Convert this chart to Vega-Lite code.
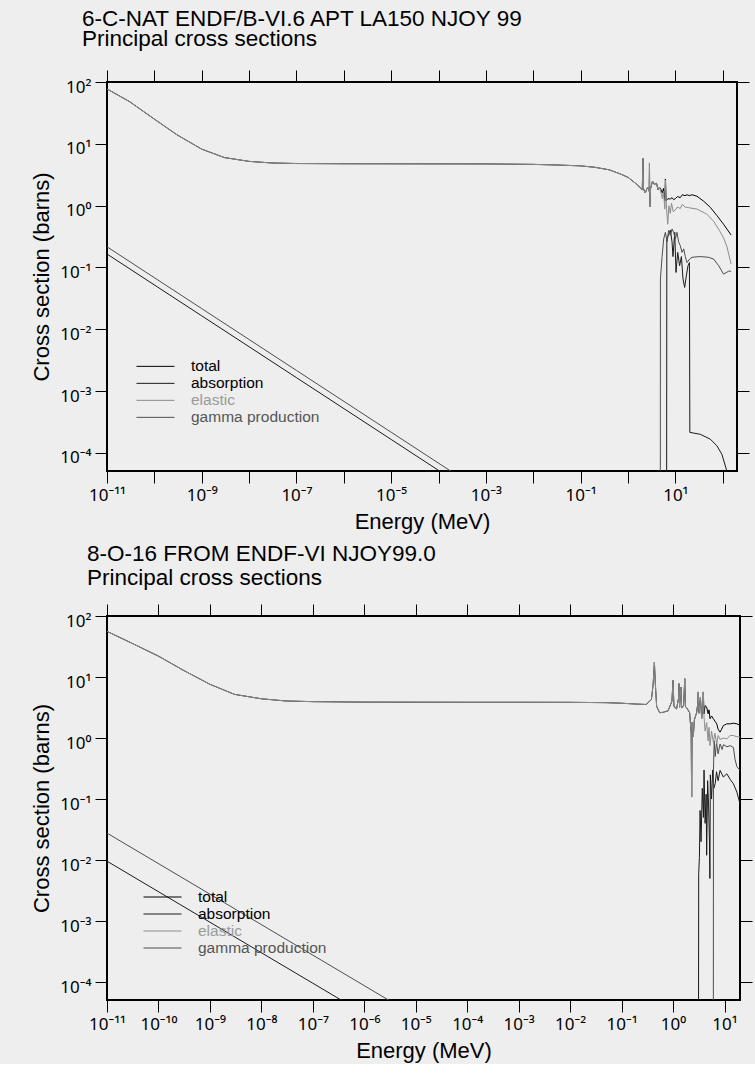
{
  "$schema": "https://vega.github.io/schema/vega-lite/v6.json",
  "background": "#eeeeee",
  "padding": {"left": 29, "top": 6, "right": 4, "bottom": 2},
  "datasets": {
    "carbon": [
      {"reaction": "total", "energy": 1e-11, "xs": 77.2},
      {"reaction": "total", "energy": 3e-11, "xs": 48.1},
      {"reaction": "total", "energy": 1e-10, "xs": 25.1},
      {"reaction": "total", "energy": 3e-10, "xs": 14},
      {"reaction": "total", "energy": 1e-9, "xs": 8.2},
      {"reaction": "total", "energy": 3e-9, "xs": 6.0},
      {"reaction": "total", "energy": 1e-8, "xs": 5.2},
      {"reaction": "total", "energy": 3e-8, "xs": 4.9},
      {"reaction": "total", "energy": 1e-7, "xs": 4.8},
      {"reaction": "total", "energy": 1e-6, "xs": 4.76},
      {"reaction": "total", "energy": 1e-5, "xs": 4.75},
      {"reaction": "total", "energy": 1e-4, "xs": 4.74},
      {"reaction": "total", "energy": 1e-3, "xs": 4.73},
      {"reaction": "total", "energy": 1e-2, "xs": 4.65},
      {"reaction": "total", "energy": 0.03, "xs": 4.55},
      {"reaction": "total", "energy": 0.1, "xs": 4.4},
      {"reaction": "total", "energy": 0.2, "xs": 4.17},
      {"reaction": "total", "energy": 0.4, "xs": 3.8},
      {"reaction": "total", "energy": 0.7, "xs": 3.24},
      {"reaction": "total", "energy": 1.0, "xs": 2.87},
      {"reaction": "total", "energy": 1.5, "xs": 2.24},
      {"reaction": "total", "energy": 2.0, "xs": 1.81},
      {"reaction": "total", "energy": 2.07, "xs": 5.8},
      {"reaction": "total", "energy": 2.12, "xs": 1.9},
      {"reaction": "total", "energy": 2.3, "xs": 1.6},
      {"reaction": "total", "energy": 2.6, "xs": 2.0},
      {"reaction": "total", "energy": 2.8, "xs": 1.7},
      {"reaction": "total", "energy": 2.84, "xs": 4.9},
      {"reaction": "total", "energy": 2.88, "xs": 0.95},
      {"reaction": "total", "energy": 3.0, "xs": 1.9},
      {"reaction": "total", "energy": 3.3, "xs": 2.5},
      {"reaction": "total", "energy": 3.6, "xs": 2.2},
      {"reaction": "total", "energy": 4.0, "xs": 2.3},
      {"reaction": "total", "energy": 4.3, "xs": 1.8},
      {"reaction": "total", "energy": 4.6, "xs": 2.0},
      {"reaction": "total", "energy": 5.0, "xs": 1.8},
      {"reaction": "total", "energy": 5.3, "xs": 1.6},
      {"reaction": "total", "energy": 5.6, "xs": 1.9},
      {"reaction": "total", "energy": 6.0, "xs": 1.2},
      {"reaction": "total", "energy": 6.15, "xs": 2.7},
      {"reaction": "total", "energy": 6.4, "xs": 1.2},
      {"reaction": "total", "energy": 7.0, "xs": 1.3},
      {"reaction": "total", "energy": 7.85, "xs": 1.28},
      {"reaction": "total", "energy": 8.5, "xs": 1.35},
      {"reaction": "total", "energy": 9.2, "xs": 1.25},
      {"reaction": "total", "energy": 10, "xs": 1.3},
      {"reaction": "total", "energy": 11, "xs": 1.4},
      {"reaction": "total", "energy": 12.7, "xs": 1.35},
      {"reaction": "total", "energy": 14, "xs": 1.5},
      {"reaction": "total", "energy": 16, "xs": 1.45},
      {"reaction": "total", "energy": 17.6, "xs": 1.5},
      {"reaction": "total", "energy": 20, "xs": 1.45},
      {"reaction": "total", "energy": 22.4, "xs": 1.5},
      {"reaction": "total", "energy": 28.6, "xs": 1.42},
      {"reaction": "total", "energy": 39.5, "xs": 1.18},
      {"reaction": "total", "energy": 54.6, "xs": 0.94},
      {"reaction": "total", "energy": 75.5, "xs": 0.69},
      {"reaction": "total", "energy": 104, "xs": 0.5},
      {"reaction": "total", "energy": 150, "xs": 0.335},

      {"reaction": "absorption", "energy": 1e-11, "xs": 0.165},
      {"reaction": "absorption", "energy": 1e-9, "xs": 0.0165},
      {"reaction": "absorption", "energy": 1e-7, "xs": 0.00165},
      {"reaction": "absorption", "energy": 1e-5, "xs": 0.000165},
      {"reaction": "absorption", "energy": 1e-3, "xs": 0.0000165},
      {"reaction": "absorption", "energy": 6.5, "xs": 1e-7},
      {"reaction": "absorption", "energy": 6.6, "xs": 0.29},
      {"reaction": "absorption", "energy": 7.85, "xs": 0.40},
      {"reaction": "absorption", "energy": 8.5, "xs": 0.26},
      {"reaction": "absorption", "energy": 8.9, "xs": 0.15},
      {"reaction": "absorption", "energy": 9.7, "xs": 0.37},
      {"reaction": "absorption", "energy": 10.3, "xs": 0.083},
      {"reaction": "absorption", "energy": 11.2, "xs": 0.175},
      {"reaction": "absorption", "energy": 12.3, "xs": 0.107},
      {"reaction": "absorption", "energy": 13.4, "xs": 0.15},
      {"reaction": "absorption", "energy": 14.5, "xs": 0.065},
      {"reaction": "absorption", "energy": 15.7, "xs": 0.0475},
      {"reaction": "absorption", "energy": 17.1, "xs": 0.075},
      {"reaction": "absorption", "energy": 18.5, "xs": 0.107},
      {"reaction": "absorption", "energy": 19.8, "xs": 0.12},
      {"reaction": "absorption", "energy": 20.2, "xs": 0.000215},
      {"reaction": "absorption", "energy": 33.5, "xs": 0.0002},
      {"reaction": "absorption", "energy": 54.6, "xs": 0.000167},
      {"reaction": "absorption", "energy": 75.5, "xs": 0.00013},
      {"reaction": "absorption", "energy": 96, "xs": 0.000095},
      {"reaction": "absorption", "energy": 122, "xs": 0.000051},
      {"reaction": "absorption", "energy": 150, "xs": 0.000025},

      {"reaction": "gamma production", "energy": 1e-11, "xs": 0.216},
      {"reaction": "gamma production", "energy": 1e-9, "xs": 0.0216},
      {"reaction": "gamma production", "energy": 1e-7, "xs": 0.00216},
      {"reaction": "gamma production", "energy": 1e-5, "xs": 0.000216},
      {"reaction": "gamma production", "energy": 1e-3, "xs": 0.0000216},
      {"reaction": "gamma production", "energy": 4.8, "xs": 1e-7},
      {"reaction": "gamma production", "energy": 4.83, "xs": 0.065},
      {"reaction": "gamma production", "energy": 5.24, "xs": 0.15},
      {"reaction": "gamma production", "energy": 5.67, "xs": 0.29},
      {"reaction": "gamma production", "energy": 6.15, "xs": 0.37},
      {"reaction": "gamma production", "energy": 6.68, "xs": 0.26},
      {"reaction": "gamma production", "energy": 7.24, "xs": 0.40},
      {"reaction": "gamma production", "energy": 7.85, "xs": 0.33},
      {"reaction": "gamma production", "energy": 8.5, "xs": 0.42},
      {"reaction": "gamma production", "energy": 9.2, "xs": 0.37},
      {"reaction": "gamma production", "energy": 10, "xs": 0.29},
      {"reaction": "gamma production", "energy": 10.8, "xs": 0.37},
      {"reaction": "gamma production", "energy": 11.7, "xs": 0.26},
      {"reaction": "gamma production", "energy": 12.7, "xs": 0.225},
      {"reaction": "gamma production", "energy": 13.8, "xs": 0.175},
      {"reaction": "gamma production", "energy": 15, "xs": 0.2},
      {"reaction": "gamma production", "energy": 16.2, "xs": 0.15},
      {"reaction": "gamma production", "energy": 17.6, "xs": 0.12},
      {"reaction": "gamma production", "energy": 20, "xs": 0.137},
      {"reaction": "gamma production", "energy": 22.4, "xs": 0.146},
      {"reaction": "gamma production", "energy": 33.5, "xs": 0.15},
      {"reaction": "gamma production", "energy": 50, "xs": 0.146},
      {"reaction": "gamma production", "energy": 64, "xs": 0.137},
      {"reaction": "gamma production", "energy": 82, "xs": 0.107},
      {"reaction": "gamma production", "energy": 104, "xs": 0.078},
      {"reaction": "gamma production", "energy": 133, "xs": 0.087},
      {"reaction": "gamma production", "energy": 150, "xs": 0.087},

      {"reaction": "elastic", "energy": 1e-11, "xs": 77},
      {"reaction": "elastic", "energy": 3e-11, "xs": 48},
      {"reaction": "elastic", "energy": 1e-10, "xs": 25},
      {"reaction": "elastic", "energy": 3e-10, "xs": 14},
      {"reaction": "elastic", "energy": 1e-9, "xs": 8.2},
      {"reaction": "elastic", "energy": 3e-9, "xs": 6.0},
      {"reaction": "elastic", "energy": 1e-8, "xs": 5.2},
      {"reaction": "elastic", "energy": 3e-8, "xs": 4.9},
      {"reaction": "elastic", "energy": 1e-7, "xs": 4.8},
      {"reaction": "elastic", "energy": 1e-6, "xs": 4.76},
      {"reaction": "elastic", "energy": 1e-5, "xs": 4.75},
      {"reaction": "elastic", "energy": 1e-4, "xs": 4.74},
      {"reaction": "elastic", "energy": 1e-3, "xs": 4.73},
      {"reaction": "elastic", "energy": 1e-2, "xs": 4.65},
      {"reaction": "elastic", "energy": 0.03, "xs": 4.55},
      {"reaction": "elastic", "energy": 0.1, "xs": 4.4},
      {"reaction": "elastic", "energy": 0.2, "xs": 4.17},
      {"reaction": "elastic", "energy": 0.4, "xs": 3.8},
      {"reaction": "elastic", "energy": 0.7, "xs": 3.24},
      {"reaction": "elastic", "energy": 1.0, "xs": 2.87},
      {"reaction": "elastic", "energy": 1.5, "xs": 2.24},
      {"reaction": "elastic", "energy": 2.0, "xs": 1.81},
      {"reaction": "elastic", "energy": 2.07, "xs": 5.8},
      {"reaction": "elastic", "energy": 2.12, "xs": 1.9},
      {"reaction": "elastic", "energy": 2.3, "xs": 1.6},
      {"reaction": "elastic", "energy": 2.6, "xs": 2.0},
      {"reaction": "elastic", "energy": 2.8, "xs": 1.7},
      {"reaction": "elastic", "energy": 2.84, "xs": 4.9},
      {"reaction": "elastic", "energy": 2.88, "xs": 0.95},
      {"reaction": "elastic", "energy": 3.0, "xs": 1.9},
      {"reaction": "elastic", "energy": 3.3, "xs": 2.5},
      {"reaction": "elastic", "energy": 3.6, "xs": 2.2},
      {"reaction": "elastic", "energy": 4.0, "xs": 2.3},
      {"reaction": "elastic", "energy": 4.3, "xs": 1.8},
      {"reaction": "elastic", "energy": 4.6, "xs": 2.0},
      {"reaction": "elastic", "energy": 5.0, "xs": 1.6},
      {"reaction": "elastic", "energy": 5.3, "xs": 1.3},
      {"reaction": "elastic", "energy": 5.6, "xs": 1.7},
      {"reaction": "elastic", "energy": 6.0, "xs": 0.88},
      {"reaction": "elastic", "energy": 6.2, "xs": 2.6},
      {"reaction": "elastic", "energy": 6.5, "xs": 0.9},
      {"reaction": "elastic", "energy": 6.9, "xs": 0.5},
      {"reaction": "elastic", "energy": 7.3, "xs": 1.0},
      {"reaction": "elastic", "energy": 7.8, "xs": 0.75},
      {"reaction": "elastic", "energy": 8.3, "xs": 1.1},
      {"reaction": "elastic", "energy": 9.0, "xs": 0.8},
      {"reaction": "elastic", "energy": 10, "xs": 0.85},
      {"reaction": "elastic", "energy": 11, "xs": 0.95},
      {"reaction": "elastic", "energy": 12.7, "xs": 0.9},
      {"reaction": "elastic", "energy": 14, "xs": 1.05},
      {"reaction": "elastic", "energy": 16, "xs": 0.95},
      {"reaction": "elastic", "energy": 20, "xs": 0.92},
      {"reaction": "elastic", "energy": 28.6, "xs": 0.88},
      {"reaction": "elastic", "energy": 46, "xs": 0.73},
      {"reaction": "elastic", "energy": 64, "xs": 0.56},
      {"reaction": "elastic", "energy": 88, "xs": 0.38},
      {"reaction": "elastic", "energy": 104, "xs": 0.3},
      {"reaction": "elastic", "energy": 122, "xs": 0.22},
      {"reaction": "elastic", "energy": 150, "xs": 0.114}
    ],
    "oxygen": [
      {"reaction": "total", "energy": 1e-11, "xs": 56},
      {"reaction": "total", "energy": 3e-11, "xs": 36},
      {"reaction": "total", "energy": 1e-10, "xs": 22},
      {"reaction": "total", "energy": 3e-10, "xs": 13},
      {"reaction": "total", "energy": 1e-9, "xs": 7.6},
      {"reaction": "total", "energy": 3e-9, "xs": 5.2},
      {"reaction": "total", "energy": 1e-8, "xs": 4.4},
      {"reaction": "total", "energy": 3e-8, "xs": 4.05},
      {"reaction": "total", "energy": 1e-7, "xs": 3.95},
      {"reaction": "total", "energy": 1e-6, "xs": 3.88},
      {"reaction": "total", "energy": 1e-5, "xs": 3.87},
      {"reaction": "total", "energy": 1e-4, "xs": 3.86},
      {"reaction": "total", "energy": 1e-3, "xs": 3.86},
      {"reaction": "total", "energy": 1e-2, "xs": 3.85},
      {"reaction": "total", "energy": 0.05, "xs": 3.8},
      {"reaction": "total", "energy": 0.1, "xs": 3.72},
      {"reaction": "total", "energy": 0.2, "xs": 3.6},
      {"reaction": "total", "energy": 0.3, "xs": 3.55},
      {"reaction": "total", "energy": 0.38, "xs": 4.3},
      {"reaction": "total", "energy": 0.41, "xs": 7.5},
      {"reaction": "total", "energy": 0.434, "xs": 17.6},
      {"reaction": "total", "energy": 0.45, "xs": 8.5},
      {"reaction": "total", "energy": 0.48, "xs": 3.3},
      {"reaction": "total", "energy": 0.55, "xs": 2.6},
      {"reaction": "total", "energy": 0.65, "xs": 2.65},
      {"reaction": "total", "energy": 0.8, "xs": 2.8},
      {"reaction": "total", "energy": 0.95, "xs": 4.0},
      {"reaction": "total", "energy": 1.0, "xs": 8.8},
      {"reaction": "total", "energy": 1.04, "xs": 3.3},
      {"reaction": "total", "energy": 1.17, "xs": 3.0},
      {"reaction": "total", "energy": 1.28, "xs": 4.5},
      {"reaction": "total", "energy": 1.31, "xs": 7.8},
      {"reaction": "total", "energy": 1.34, "xs": 3.2},
      {"reaction": "total", "energy": 1.42, "xs": 6.8},
      {"reaction": "total", "energy": 1.47, "xs": 3.1},
      {"reaction": "total", "energy": 1.6, "xs": 3.4},
      {"reaction": "total", "energy": 1.69, "xs": 9.4},
      {"reaction": "total", "energy": 1.74, "xs": 3.3},
      {"reaction": "total", "energy": 1.9, "xs": 3.0},
      {"reaction": "total", "energy": 2.1, "xs": 2.6},
      {"reaction": "total", "energy": 2.25, "xs": 1.2},
      {"reaction": "total", "energy": 2.3, "xs": 0.108},
      {"reaction": "total", "energy": 2.35, "xs": 1.8},
      {"reaction": "total", "energy": 2.47, "xs": 1.04},
      {"reaction": "total", "energy": 2.6, "xs": 2.0},
      {"reaction": "total", "energy": 2.87, "xs": 2.6},
      {"reaction": "total", "energy": 3.0, "xs": 3.5},
      {"reaction": "total", "energy": 3.09, "xs": 5.7},
      {"reaction": "total", "energy": 3.2, "xs": 2.6},
      {"reaction": "total", "energy": 3.4, "xs": 4.7},
      {"reaction": "total", "energy": 3.6, "xs": 2.1},
      {"reaction": "total", "energy": 3.8, "xs": 3.4},
      {"reaction": "total", "energy": 3.87, "xs": 5.7},
      {"reaction": "total", "energy": 4.0, "xs": 2.5},
      {"reaction": "total", "energy": 4.2, "xs": 3.4},
      {"reaction": "total", "energy": 4.5, "xs": 3.22},
      {"reaction": "total", "energy": 4.8, "xs": 2.5},
      {"reaction": "total", "energy": 5.0, "xs": 2.9},
      {"reaction": "total", "energy": 5.23, "xs": 2.07},
      {"reaction": "total", "energy": 5.6, "xs": 2.3},
      {"reaction": "total", "energy": 6.08, "xs": 2.07},
      {"reaction": "total", "energy": 6.5, "xs": 1.9},
      {"reaction": "total", "energy": 7.07, "xs": 1.71},
      {"reaction": "total", "energy": 7.5, "xs": 1.4},
      {"reaction": "total", "energy": 8.2, "xs": 1.25},
      {"reaction": "total", "energy": 8.8, "xs": 1.4},
      {"reaction": "total", "energy": 9.5, "xs": 1.6},
      {"reaction": "total", "energy": 11.1, "xs": 1.71},
      {"reaction": "total", "energy": 12.9, "xs": 1.71},
      {"reaction": "total", "energy": 14.9, "xs": 1.75},
      {"reaction": "total", "energy": 17.4, "xs": 1.71},
      {"reaction": "total", "energy": 20, "xs": 1.62},

      {"reaction": "absorption", "energy": 1e-11, "xs": 0.0096},
      {"reaction": "absorption", "energy": 1e-9, "xs": 0.00096},
      {"reaction": "absorption", "energy": 1e-7, "xs": 0.000096},
      {"reaction": "absorption", "energy": 1e-5, "xs": 0.0000096},
      {"reaction": "absorption", "energy": 3.1, "xs": 1e-7},
      {"reaction": "absorption", "energy": 3.15, "xs": 0.006},
      {"reaction": "absorption", "energy": 3.25, "xs": 0.011},
      {"reaction": "absorption", "energy": 3.35, "xs": 0.065},
      {"reaction": "absorption", "energy": 3.5, "xs": 0.02},
      {"reaction": "absorption", "energy": 3.7, "xs": 0.15},
      {"reaction": "absorption", "energy": 3.9, "xs": 0.05},
      {"reaction": "absorption", "energy": 4.0, "xs": 0.3},
      {"reaction": "absorption", "energy": 4.2, "xs": 0.04},
      {"reaction": "absorption", "energy": 4.4, "xs": 0.12},
      {"reaction": "absorption", "energy": 4.5, "xs": 0.012},
      {"reaction": "absorption", "energy": 4.7, "xs": 0.2},
      {"reaction": "absorption", "energy": 4.9, "xs": 0.08},
      {"reaction": "absorption", "energy": 5.1, "xs": 0.02},
      {"reaction": "absorption", "energy": 5.2, "xs": 0.005},
      {"reaction": "absorption", "energy": 5.3, "xs": 0.25},
      {"reaction": "absorption", "energy": 5.6, "xs": 0.1},
      {"reaction": "absorption", "energy": 5.9, "xs": 0.3},
      {"reaction": "absorption", "energy": 6.2, "xs": 0.15},
      {"reaction": "absorption", "energy": 6.6, "xs": 0.18},
      {"reaction": "absorption", "energy": 7.0, "xs": 0.28},
      {"reaction": "absorption", "energy": 7.5, "xs": 0.2},
      {"reaction": "absorption", "energy": 8.2, "xs": 0.295},
      {"reaction": "absorption", "energy": 9.5, "xs": 0.23},
      {"reaction": "absorption", "energy": 11.1, "xs": 0.26},
      {"reaction": "absorption", "energy": 12.9, "xs": 0.21},
      {"reaction": "absorption", "energy": 14.9, "xs": 0.178},
      {"reaction": "absorption", "energy": 17.4, "xs": 0.13},
      {"reaction": "absorption", "energy": 20, "xs": 0.084},

      {"reaction": "gamma production", "energy": 1e-11, "xs": 0.0277},
      {"reaction": "gamma production", "energy": 1e-9, "xs": 0.00277},
      {"reaction": "gamma production", "energy": 1e-7, "xs": 0.000277},
      {"reaction": "gamma production", "energy": 1e-5, "xs": 0.0000277},
      {"reaction": "gamma production", "energy": 1e-3, "xs": 0.00000277},
      {"reaction": "gamma production", "energy": 6.05, "xs": 1e-7},
      {"reaction": "gamma production", "energy": 6.1, "xs": 0.3},
      {"reaction": "gamma production", "energy": 6.3, "xs": 0.9},
      {"reaction": "gamma production", "energy": 6.6, "xs": 0.5},
      {"reaction": "gamma production", "energy": 7.0, "xs": 0.85},
      {"reaction": "gamma production", "energy": 7.5, "xs": 0.55},
      {"reaction": "gamma production", "energy": 8.2, "xs": 0.8},
      {"reaction": "gamma production", "energy": 9.0, "xs": 0.65},
      {"reaction": "gamma production", "energy": 9.5, "xs": 0.78},
      {"reaction": "gamma production", "energy": 11.1, "xs": 0.72},
      {"reaction": "gamma production", "energy": 12.9, "xs": 0.75},
      {"reaction": "gamma production", "energy": 14.9, "xs": 0.7},
      {"reaction": "gamma production", "energy": 16, "xs": 0.45},
      {"reaction": "gamma production", "energy": 17.4, "xs": 0.34},
      {"reaction": "gamma production", "energy": 20, "xs": 0.295},

      {"reaction": "elastic", "energy": 1e-11, "xs": 56},
      {"reaction": "elastic", "energy": 3e-11, "xs": 36},
      {"reaction": "elastic", "energy": 1e-10, "xs": 22},
      {"reaction": "elastic", "energy": 3e-10, "xs": 13},
      {"reaction": "elastic", "energy": 1e-9, "xs": 7.6},
      {"reaction": "elastic", "energy": 3e-9, "xs": 5.2},
      {"reaction": "elastic", "energy": 1e-8, "xs": 4.4},
      {"reaction": "elastic", "energy": 3e-8, "xs": 4.05},
      {"reaction": "elastic", "energy": 1e-7, "xs": 3.95},
      {"reaction": "elastic", "energy": 1e-6, "xs": 3.88},
      {"reaction": "elastic", "energy": 1e-5, "xs": 3.87},
      {"reaction": "elastic", "energy": 1e-4, "xs": 3.86},
      {"reaction": "elastic", "energy": 1e-3, "xs": 3.86},
      {"reaction": "elastic", "energy": 1e-2, "xs": 3.85},
      {"reaction": "elastic", "energy": 0.05, "xs": 3.8},
      {"reaction": "elastic", "energy": 0.1, "xs": 3.72},
      {"reaction": "elastic", "energy": 0.2, "xs": 3.6},
      {"reaction": "elastic", "energy": 0.3, "xs": 3.55},
      {"reaction": "elastic", "energy": 0.38, "xs": 4.3},
      {"reaction": "elastic", "energy": 0.41, "xs": 7.5},
      {"reaction": "elastic", "energy": 0.434, "xs": 17.6},
      {"reaction": "elastic", "energy": 0.45, "xs": 8.5},
      {"reaction": "elastic", "energy": 0.48, "xs": 3.3},
      {"reaction": "elastic", "energy": 0.55, "xs": 2.6},
      {"reaction": "elastic", "energy": 0.65, "xs": 2.65},
      {"reaction": "elastic", "energy": 0.8, "xs": 2.8},
      {"reaction": "elastic", "energy": 0.95, "xs": 4.0},
      {"reaction": "elastic", "energy": 1.0, "xs": 8.8},
      {"reaction": "elastic", "energy": 1.04, "xs": 3.3},
      {"reaction": "elastic", "energy": 1.17, "xs": 3.0},
      {"reaction": "elastic", "energy": 1.28, "xs": 4.5},
      {"reaction": "elastic", "energy": 1.31, "xs": 7.8},
      {"reaction": "elastic", "energy": 1.34, "xs": 3.2},
      {"reaction": "elastic", "energy": 1.42, "xs": 6.8},
      {"reaction": "elastic", "energy": 1.47, "xs": 3.1},
      {"reaction": "elastic", "energy": 1.6, "xs": 3.4},
      {"reaction": "elastic", "energy": 1.69, "xs": 9.4},
      {"reaction": "elastic", "energy": 1.74, "xs": 3.3},
      {"reaction": "elastic", "energy": 1.9, "xs": 3.0},
      {"reaction": "elastic", "energy": 2.1, "xs": 2.6},
      {"reaction": "elastic", "energy": 2.25, "xs": 1.2},
      {"reaction": "elastic", "energy": 2.3, "xs": 0.108},
      {"reaction": "elastic", "energy": 2.35, "xs": 1.8},
      {"reaction": "elastic", "energy": 2.47, "xs": 1.04},
      {"reaction": "elastic", "energy": 2.6, "xs": 2.0},
      {"reaction": "elastic", "energy": 2.87, "xs": 2.6},
      {"reaction": "elastic", "energy": 3.0, "xs": 3.5},
      {"reaction": "elastic", "energy": 3.09, "xs": 5.7},
      {"reaction": "elastic", "energy": 3.2, "xs": 2.5},
      {"reaction": "elastic", "energy": 3.4, "xs": 4.7},
      {"reaction": "elastic", "energy": 3.6, "xs": 2.07},
      {"reaction": "elastic", "energy": 3.8, "xs": 3.4},
      {"reaction": "elastic", "energy": 3.87, "xs": 5.7},
      {"reaction": "elastic", "energy": 4.0, "xs": 2.2},
      {"reaction": "elastic", "energy": 4.2, "xs": 1.3},
      {"reaction": "elastic", "energy": 4.5, "xs": 1.8},
      {"reaction": "elastic", "energy": 4.8, "xs": 0.9},
      {"reaction": "elastic", "energy": 5.0, "xs": 1.5},
      {"reaction": "elastic", "energy": 5.23, "xs": 0.75},
      {"reaction": "elastic", "energy": 5.6, "xs": 1.3},
      {"reaction": "elastic", "energy": 6.08, "xs": 0.85},
      {"reaction": "elastic", "energy": 6.5, "xs": 1.2},
      {"reaction": "elastic", "energy": 7.07, "xs": 0.8},
      {"reaction": "elastic", "energy": 7.5, "xs": 1.1},
      {"reaction": "elastic", "energy": 8.2, "xs": 0.95},
      {"reaction": "elastic", "energy": 9.5, "xs": 1.0},
      {"reaction": "elastic", "energy": 11.1, "xs": 0.97},
      {"reaction": "elastic", "energy": 12.9, "xs": 1.1},
      {"reaction": "elastic", "energy": 14.9, "xs": 1.1},
      {"reaction": "elastic", "energy": 17.4, "xs": 1.05},
      {"reaction": "elastic", "energy": 20, "xs": 1.04}
    ]
  },
  "vconcat": [
    {
      "title": {
        "text": "6-C-NAT ENDF/B-VI.6 APT LA150 NJOY 99",
        "subtitle": "Principal cross sections",
        "anchor": "start", "frame": "group", "dx": -25, "offset": 19,
        "font": "Liberation Sans", "fontSize": 22.5, "fontWeight": "normal", "color": "#000000",
        "subtitleFont": "Liberation Sans", "subtitleFontSize": 22.5, "subtitleColor": "#000000", "subtitlePadding": -2
      },
      "width": 630,
      "height": 389,
      "data": {"name": "carbon"},
      "layer": [
        {
          "mark": {"type": "line", "clip": true, "strokeWidth": 1},
          "encoding": {
            "x": {
              "field": "energy", "type": "quantitative",
              "scale": {"type": "log", "domain": [1e-11, 200], "nice": false},
              "axis": {
                "orient": "bottom", "title": "Energy (MeV)",
                "values": [1e-11, 1e-10, 1e-9, 1e-8, 1e-7, 1e-6, 1e-5, 1e-4, 1e-3, 1e-2, 1e-1, 1, 10, 100],
                "labelExpr": "abs(round(log(datum.value)/LN10)) % 2 == 1 ? '10' + (round(log(datum.value)/LN10) < 0 ? '⁻' : '') + (abs(round(log(datum.value)/LN10)) >= 10 ? substring('⁰¹²³⁴⁵⁶⁷⁸⁹', floor(abs(round(log(datum.value)/LN10))/10), floor(abs(round(log(datum.value)/LN10))/10) + 1) : '') + substring('⁰¹²³⁴⁵⁶⁷⁸⁹', abs(round(log(datum.value)/LN10)) % 10, abs(round(log(datum.value)/LN10)) % 10 + 1) : ''"
              }
            },
            "y": {
              "field": "xs", "type": "quantitative",
              "scale": {"type": "log", "domain": [5.1e-5, 100], "nice": false},
              "axis": {
                "orient": "left", "title": "Cross section (barns)",
                "values": [1e-4, 1e-3, 1e-2, 1e-1, 1, 10, 100],
                "labelExpr": "'10' + (round(log(datum.value)/LN10) < 0 ? '⁻' : '') + substring('⁰¹²³⁴⁵⁶⁷⁸⁹', abs(round(log(datum.value)/LN10)) % 10, abs(round(log(datum.value)/LN10)) % 10 + 1)"
              }
            },
            "color": {
              "field": "reaction", "type": "nominal",
              "scale": {"domain": ["total", "absorption", "elastic", "gamma production"], "range": ["#000000", "#1a1a1a", "#8c8c8c", "#4d4d4d"]},
              "legend": {
                "orient": "none", "legendX": 29, "legendY": 276, "title": null,
                "symbolType": "stroke", "symbolSize": 1444, "symbolStrokeWidth": 1,
                "clipHeight": 16.7, "rowPadding": 0, "padding": 0,
                "labelFont": "Liberation Sans", "labelFontSize": 15.5, "labelOffset": 16, "labelLimit": 300,
                "encode": {
                  "labels": {"update": {"fill": {"signal": "datum.value === 'elastic' ? '#9a9a9a' : datum.value === 'gamma production' ? '#555555' : '#000000'"}}}
                }
              }
            }
          }
        },
        {
          "mark": {"type": "point", "clip": true, "opacity": 0},
          "encoding": {
            "x": {
              "field": "energy", "type": "quantitative",
              "scale": {"type": "log", "domain": [1e-11, 200], "nice": false},
              "axis": {"orient": "top", "labels": false, "title": null, "values": [1e-11, 1e-10, 1e-9, 1e-8, 1e-7, 1e-6, 1e-5, 1e-4, 1e-3, 1e-2, 1e-1, 1, 10, 100]}
            },
            "y": {
              "field": "xs", "type": "quantitative",
              "scale": {"type": "log", "domain": [5.1e-5, 100], "nice": false},
              "axis": {"orient": "right", "labels": false, "title": null, "values": [1e-4, 1e-3, 1e-2, 1e-1, 1, 10, 100]}
            }
          }
        }
      ],
      "resolve": {"axis": {"x": "independent", "y": "independent"}}
    },
    {
      "title": {
        "text": "8-O-16 FROM ENDF-VI NJOY99.0",
        "subtitle": "Principal cross sections",
        "anchor": "start", "frame": "group", "dx": -20, "offset": 14,
        "font": "Liberation Sans", "fontSize": 22.5, "fontWeight": "normal", "color": "#000000",
        "subtitleFont": "Liberation Sans", "subtitleFontSize": 22.5, "subtitleColor": "#000000", "subtitlePadding": 2
      },
      "width": 633,
      "height": 384,
      "data": {"name": "oxygen"},
      "layer": [
        {
          "mark": {"type": "line", "clip": true, "strokeWidth": 1},
          "encoding": {
            "x": {
              "field": "energy", "type": "quantitative",
              "scale": {"type": "log", "domain": [1e-11, 20], "nice": false},
              "axis": {
                "orient": "bottom", "title": "Energy (MeV)",
                "values": [1e-11, 1e-10, 1e-9, 1e-8, 1e-7, 1e-6, 1e-5, 1e-4, 1e-3, 1e-2, 1e-1, 1, 10],
                "labelExpr": "'10' + (round(log(datum.value)/LN10) < 0 ? '⁻' : '') + (abs(round(log(datum.value)/LN10)) >= 10 ? substring('⁰¹²³⁴⁵⁶⁷⁸⁹', floor(abs(round(log(datum.value)/LN10))/10), floor(abs(round(log(datum.value)/LN10))/10) + 1) : '') + substring('⁰¹²³⁴⁵⁶⁷⁸⁹', abs(round(log(datum.value)/LN10)) % 10, abs(round(log(datum.value)/LN10)) % 10 + 1)"
              }
            },
            "y": {
              "field": "xs", "type": "quantitative",
              "scale": {"type": "log", "domain": [5.1e-5, 100], "nice": false},
              "axis": {
                "orient": "left", "title": "Cross section (barns)",
                "values": [1e-4, 1e-3, 1e-2, 1e-1, 1, 10, 100],
                "labelExpr": "'10' + (round(log(datum.value)/LN10) < 0 ? '⁻' : '') + substring('⁰¹²³⁴⁵⁶⁷⁸⁹', abs(round(log(datum.value)/LN10)) % 10, abs(round(log(datum.value)/LN10)) % 10 + 1)"
              }
            },
            "color": {
              "field": "reaction", "type": "nominal",
              "scale": {"domain": ["total", "absorption", "elastic", "gamma production"], "range": ["#000000", "#1a1a1a", "#8c8c8c", "#4d4d4d"]},
              "legend": {
                "orient": "none", "legendX": 36, "legendY": 273, "title": null,
                "symbolType": "stroke", "symbolSize": 1444, "symbolStrokeWidth": 1,
                "clipHeight": 16, "rowPadding": 0, "padding": 0,
                "labelFont": "Liberation Sans", "labelFontSize": 15.5, "labelOffset": 16, "labelLimit": 300,
                "encode": {
                  "labels": {"update": {"fill": {"signal": "datum.value === 'elastic' ? '#9a9a9a' : datum.value === 'gamma production' ? '#555555' : '#000000'"}}}
                }
              }
            }
          }
        },
        {
          "mark": {"type": "point", "clip": true, "opacity": 0},
          "encoding": {
            "x": {
              "field": "energy", "type": "quantitative",
              "scale": {"type": "log", "domain": [1e-11, 20], "nice": false},
              "axis": {"orient": "top", "labels": false, "title": null, "values": [1e-11, 1e-10, 1e-9, 1e-8, 1e-7, 1e-6, 1e-5, 1e-4, 1e-3, 1e-2, 1e-1, 1, 10]}
            },
            "y": {
              "field": "xs", "type": "quantitative",
              "scale": {"type": "log", "domain": [5.1e-5, 100], "nice": false},
              "axis": {"orient": "right", "labels": false, "title": null, "values": [1e-4, 1e-3, 1e-2, 1e-1, 1, 10, 100]}
            }
          }
        }
      ],
      "resolve": {"axis": {"x": "independent", "y": "independent"}}
    }
  ],
  "spacing": 8,
  "resolve": {
    "scale": {"x": "independent", "y": "independent", "color": "independent"},
    "legend": {"color": "independent"}
  },
  "config": {
    "view": {"stroke": "#000000", "strokeWidth": 2},
    "axis": {
      "domain": false, "grid": false, "ticks": true,
      "tickColor": "#000000", "tickSize": 12, "tickWidth": 1,
      "labelFont": "Noto Sans", "labelFontSize": 17, "labelColor": "#000000",
      "labelFlush": false, "labelOverlap": false,
      "titleFont": "Liberation Sans", "titleFontSize": 22, "titleFontWeight": "normal", "titleColor": "#000000"
    },
    "axisX": {"labelPadding": 4, "titlePadding": 8},
    "axisY": {"labelPadding": 4, "titlePadding": 6, "labelBaseline": "alphabetic", "labelOffset": 10}
  }
}
